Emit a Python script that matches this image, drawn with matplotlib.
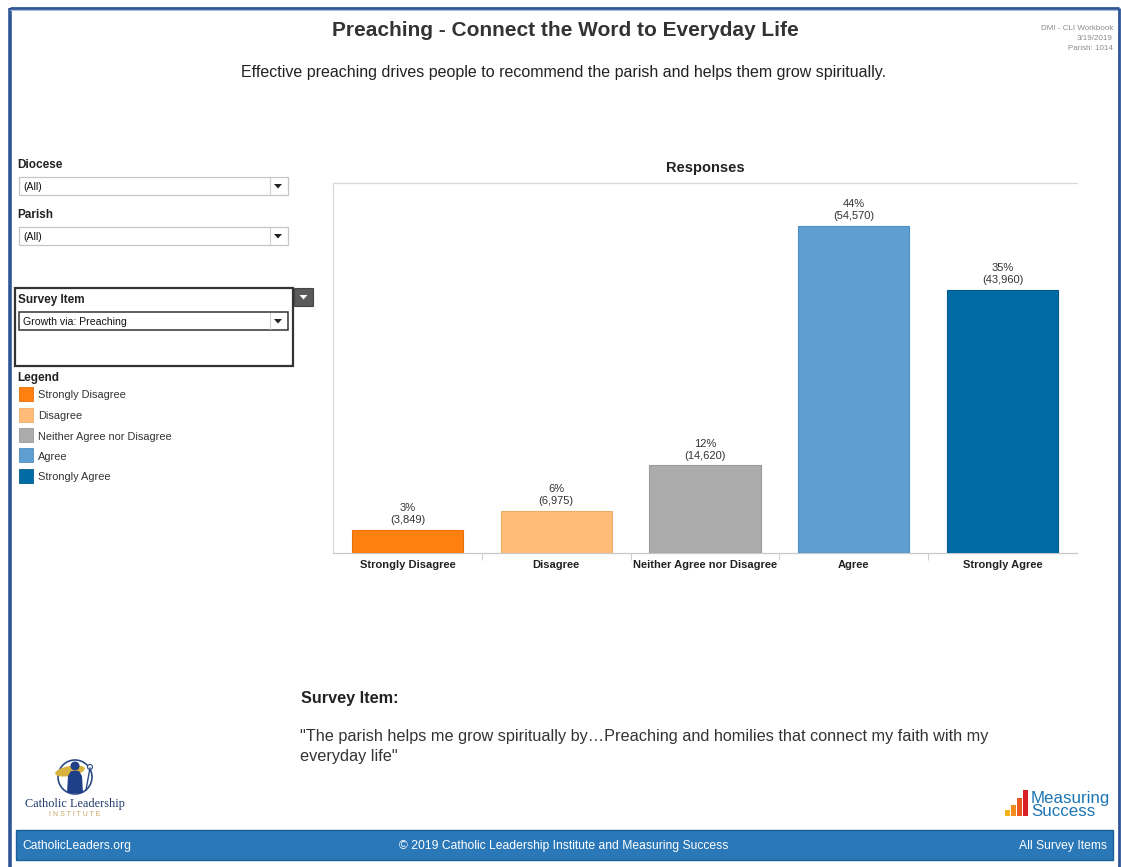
import matplotlib
matplotlib.use("Agg")
import matplotlib.pyplot as plt
from matplotlib.patches import Rectangle, Circle, Polygon, Ellipse
import numpy as np

plt.rcParams['font.family'] = ['Liberation Sans', 'DejaVu Sans']

# ---- data ----
categories = ["Strongly Disagree", "Disagree", "Neither Agree nor Disagree", "Agree", "Strongly Agree"]
counts = [3849, 6975, 14620, 54570, 43960]
percents = ["3%", "6%", "12%", "44%", "35%"]
colors = ["#FF800E", "#FFBC79", "#ABABAB", "#5F9ED1", "#006BA4"]
edge_colors = ["#E8700A", "#F0AC6A", "#9A9A9A", "#4F8EC1", "#005A8C"]

title = "Preaching - Connect the Word to Everyday Life"
subtitle = "Effective preaching drives people to recommend the parish and helps them grow spiritually."
meta_lines = ["DMI - CLI Workbook", "3/19/2019", "Parish: 1014"]
survey_quote = ["\"The parish helps me grow spiritually by\u2026Preaching and homilies that connect my faith with my",
                "everyday life\""]

W, H = 1121, 867
fig = plt.figure(figsize=(W / 100, H / 100), dpi=100)
fig.patch.set_facecolor("white")

# background overlay axes in pixel coordinates
bg = fig.add_axes([0, 0, 1, 1])
bg.set_xlim(0, W)
bg.set_ylim(H, 0)
bg.axis("off")

border = "#2F5597"
bg.plot([10, 10], [8, 867], color=border, lw=2.6, solid_capstyle="butt")
bg.plot([10, 1119], [8, 8], color=border, lw=2.0, solid_capstyle="butt")
bg.plot([10, 1119], [9.6, 9.6], color="#A9BEDF", lw=0.8, solid_capstyle="butt")
bg.plot([1119, 1119], [8, 867], color=border, lw=2.0, solid_capstyle="butt")

# titles
bg.text(565, 31, title, ha="center", va="center", fontsize=15, fontweight="bold", color="#333333")
bg.text(564, 72, subtitle, ha="center", va="center", fontsize=11.5, color="#222222")
for i, line in enumerate(meta_lines):
    bg.text(1113, 29 + i * 9.5, line, ha="right", va="center", fontsize=5.8, color="#8C8C8C")

# ---- left panel ----
def dropdown(y0, label_text, dark=False):
    ec = "#333333" if dark else "#C6C6C6"
    bg.add_patch(Rectangle((19, y0), 269, 18, facecolor="white", edgecolor=ec, lw=0.9 if not dark else 1.1))
    bg.plot([270, 270], [y0 + 1, y0 + 17], color="#D0D0D0", lw=0.8)
    bg.text(23, y0 + 10, label_text, ha="left", va="center", fontsize=7.6, color="#111111")
    bg.add_patch(Polygon([[274, y0 + 7], [282, y0 + 7], [278, y0 + 11.5]], closed=True,
                         facecolor="#222222", edgecolor="none"))

bg.text(17, 165.5, "Diocese", ha="left", va="center", fontsize=8.5, fontweight="bold", color="#222222")
dropdown(177, "(All)")
bg.text(17, 215.5, "Parish", ha="left", va="center", fontsize=8.5, fontweight="bold", color="#222222")
dropdown(227, "(All)")

bg.add_patch(Rectangle((15, 288), 278, 78, facecolor="white", edgecolor="#333333", lw=1.6))
bg.add_patch(Rectangle((294, 288), 19, 18, facecolor="#5A5A5A", edgecolor="#444444", lw=0.8))
bg.add_patch(Polygon([[299.5, 295], [307.5, 295], [303.5, 299.5]], closed=True, facecolor="white", edgecolor="none"))
bg.text(18, 300.5, "Survey Item", ha="left", va="center", fontsize=8.5, fontweight="bold", color="#222222")
dropdown(312, "Growth via: Preaching", dark=True)

bg.text(17, 377.5, "Legend", ha="left", va="center", fontsize=8.5, fontweight="bold", color="#222222")
leg_y = [394, 414.5, 435, 455, 475.5]
for cat, col, ecol, yy in zip(categories, colors, edge_colors, leg_y):
    bg.add_patch(Rectangle((19, yy - 7), 14, 14, facecolor=col, edgecolor=ecol, lw=0.6))
    bg.text(38, yy + 1.5, cat, ha="left", va="center", fontsize=7.9, color="#333333")

# ---- survey item text ----
bg.text(301, 699, "Survey Item:", ha="left", va="center", fontsize=11.7, fontweight="bold", color="#222222")
for i, line in enumerate(survey_quote):
    bg.text(300, 737 + i * 19, line, ha="left", va="center", fontsize=11.7, color="#333333")

# ---- CLI logo ----
bg.add_patch(Circle((75, 777), 17, facecolor="white", edgecolor="#2A4A86", lw=1.2))
bg.add_patch(Ellipse((70, 771), 30, 10, angle=-10, facecolor="#D7B23C", edgecolor="none"))
bg.add_patch(Circle((75, 766), 4.5, facecolor="#1F3F88", edgecolor="none"))
bg.add_patch(Polygon([[67, 793], [68, 776], [71, 771], [79, 771], [82, 776], [83, 793]], closed=True,
                     facecolor="#1F3F88", edgecolor="none"))
bg.plot([86, 90], [790, 768], color="#2A4A86", lw=1.0)
bg.add_patch(Circle((90, 767), 2.5, facecolor="white", edgecolor="#2A4A86", lw=0.8))
bg.text(75, 804, "Catholic Leadership", ha="center", va="center", fontsize=8.8,
        family=["Liberation Serif", "DejaVu Serif"], color="#1F3A6A")
bg.text(75, 815, "I N S T I T U T E", ha="center", va="center", fontsize=5.0, color="#C6A763")

# ---- Measuring Success logo ----
ms_bars = [(1005, 6, "#F6B21B"), (1011, 11, "#F28C1F"), (1017, 18, "#EA5A20"), (1023, 26, "#D92027")]
for xx, hh, cc in ms_bars:
    bg.add_patch(Rectangle((xx, 816 - hh), 5, hh, facecolor=cc, edgecolor="none"))
bg.text(1031, 798, "Measuring", ha="left", va="center", fontsize=12.2, color="#1C75B4")
bg.text(1031, 811, "Success", ha="left", va="center", fontsize=12.2, color="#1C75B4")

# ---- footer ----
bg.add_patch(Rectangle((16, 830), 1097, 30, facecolor="#2A78B7", edgecolor="#1E5E98", lw=1.0))
bg.text(22, 846, "CatholicLeaders.org", ha="left", va="center", fontsize=8.7, color="white")
bg.text(564, 846, "\u00a9 2019 Catholic Leadership Institute and Measuring Success", ha="center", va="center",
        fontsize=8.7, color="white")
bg.text(1107, 845.5, "All Survey Items", ha="right", va="center", fontsize=8.7, color="white")

# ---- chart ----
ax = fig.add_axes([333 / W, 1 - 553 / H, 744 / W, 370 / H])
x = np.arange(len(categories))
ax.bar(x, counts, width=0.746, color=colors, edgecolor=edge_colors, linewidth=0.8, zorder=3)
ax.set_xlim(-0.5, len(categories) - 0.5)
ax.set_ylim(0, 61750)
for xi, c, p in zip(x, counts, percents):
    ax.annotate(f"{p}\n({c:,})", (xi, c), xytext=(0, 3.5), textcoords="offset points",
                ha="center", va="bottom", fontsize=8, color="#333333", linespacing=1.25)
ax.set_xticks(x)
ax.set_xticklabels(categories, fontsize=8, fontweight="bold", color="#222222")
ax.tick_params(axis="x", which="major", length=0, pad=5)
ax.set_xticks(np.arange(0.5, len(categories) - 0.5, 1), minor=True)
ax.tick_params(axis="x", which="minor", length=5, color="#D0D0D0", width=0.8)
ax.set_yticks([])
for s in ["left", "top"]:
    ax.spines[s].set_color("#D9D9D9")
    ax.spines[s].set_linewidth(0.9)
ax.spines["bottom"].set_color("#C8C8C8")
ax.spines["bottom"].set_linewidth(0.9)
ax.spines["right"].set_visible(False)
ax.set_title("Responses", fontsize=10.5, fontweight="bold", color="#222222", pad=8)

fig.savefig("out.png", dpi=100, facecolor="white")
